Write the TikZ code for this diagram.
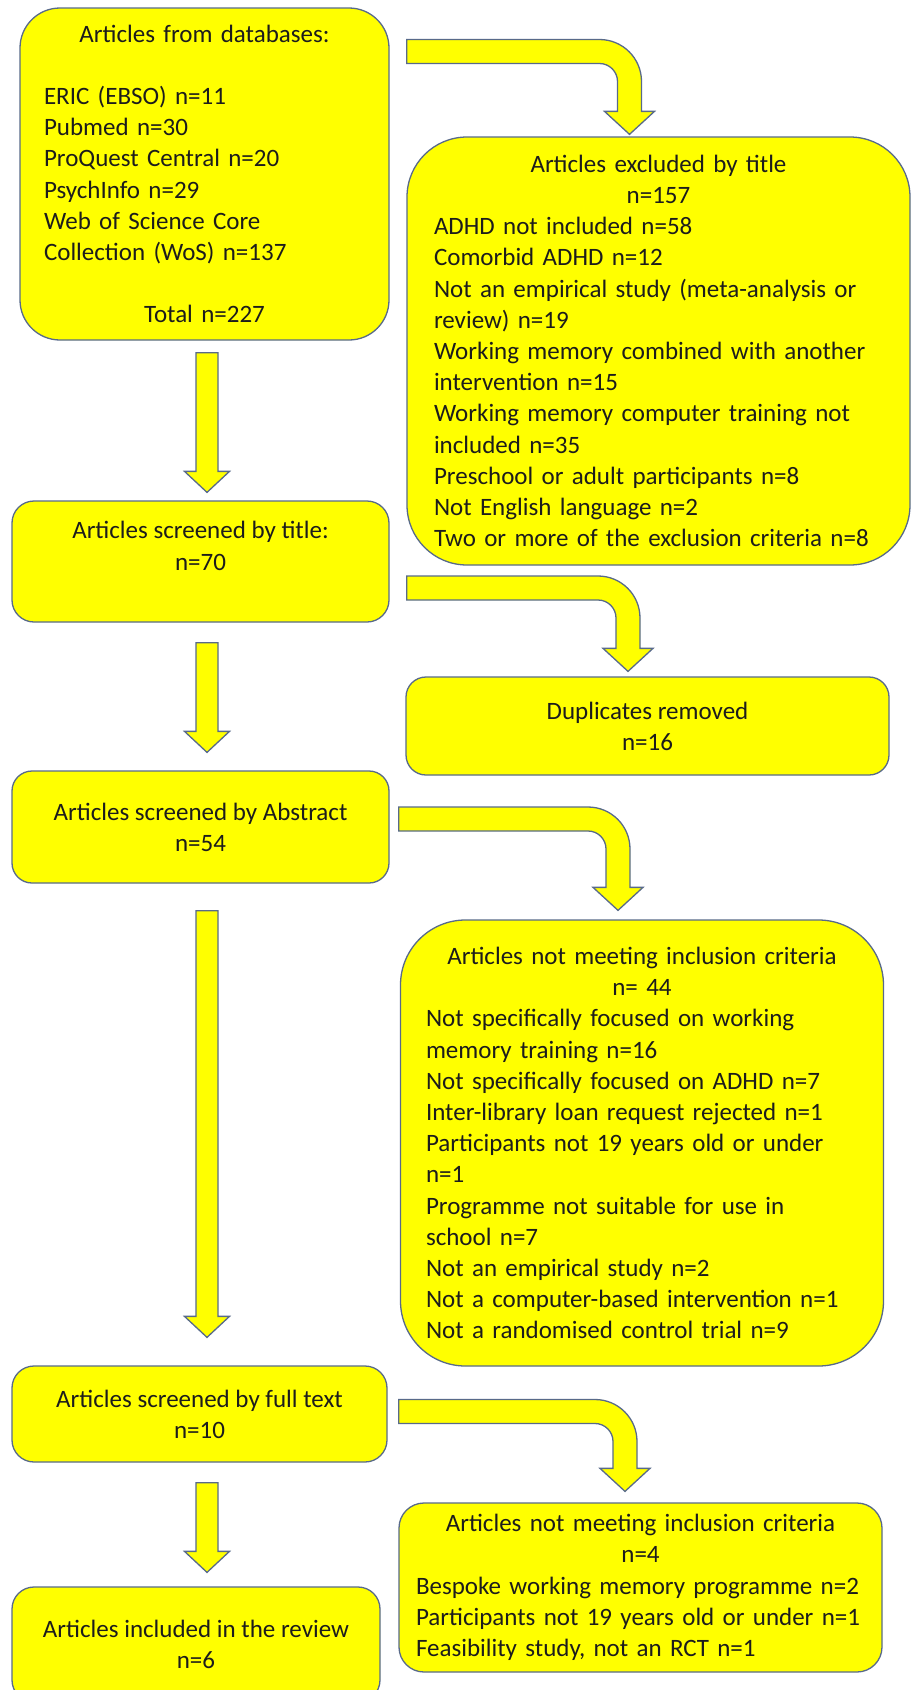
\documentclass[tikz,border=0pt]{standalone}
\usepackage{fontspec}
\setmainfont{Carlito}
\usetikzlibrary{calc}

\definecolor{boxyellow}{RGB}{255,255,0}
\definecolor{edgeblue}{RGB}{88,106,138}
\definecolor{inkgray}{RGB}{28,28,28}

\newcommand{\flowfont}{\fontsize{25}{31.2}\selectfont}
\newcommand{\lline}[1]{\makebox[\hsize][l]{#1}}

% straight block arrow: top of shaft, tip
\newcommand{\downblock}[2]{%
  \draw[blockarrow] let \p1=(#1), \p2=(#2) in
    (\x1-11pt,\y1) -- (\x1+11pt,\y1) -- (\x1+11pt,\y2+21pt) -- (\x1+22.5pt,\y2+21pt)
    -- (\x1,\y2) -- (\x1-22.5pt,\y2+21pt) -- (\x1-11pt,\y2+21pt) -- cycle;}

% bent block arrow: left end of shaft, tip
\newcommand{\bendblock}[2]{%
  \draw[blockarrow] let \p1=(#1), \p2=(#2) in
    (\x1,\y1+12pt) -- (\x2-30pt,\y1+12pt) arc[start angle=90,end angle=0,radius=42pt]
    -- (\x2+12pt,\y2+23pt) -- (\x2+25pt,\y2+23pt) -- (\x2,\y2) -- (\x2-25pt,\y2+23pt)
    -- (\x2-12pt,\y2+23pt) -- (\x2-12pt,\y1-30pt) arc[start angle=0,end angle=90,radius=18pt]
    -- (\x1,\y1-12pt) -- cycle;}

\begin{document}
\begin{tikzpicture}[
    x=1pt,
    y=-1pt,
    box/.style={draw=edgeblue, fill=boxyellow, line width=1.3pt, inner sep=0pt,
      align=center, font=\flowfont, text=inkgray},
    blockarrow/.style={draw=edgeblue, fill=boxyellow, line width=1.3pt, line join=miter},
  ]
  \useasboundingbox (0,0) rectangle (913,1690);
  \clip (0,0) rectangle (913,1690);
  \fill[white] (0,0) rectangle (913,1690);

  \node[box, rounded corners=40pt, minimum width=369pt, minimum height=332pt, text width=321pt]
    (dbs) at (204.5,174) {Articles from databases:\\ \mbox{}\\
      \lline{ERIC (EBSO) n=11}\\ \lline{Pubmed n=30}\\ \lline{ProQuest Central n=20}\\
      \lline{PsychInfo n=29}\\ \lline{Web of Science Core}\\ \lline{Collection (WoS) n=137}\\
      \mbox{}\\ Total n=227};
  \node[box, rounded corners=60pt, minimum width=503pt, minimum height=428pt, text width=449pt]
    (extitle) at (658.5,351) {Articles excluded by title\\ n=157\\
      \lline{ADHD not included n=58}\\ \lline{Comorbid ADHD n=12}\\
      \lline{Not an empirical study (meta-analysis or}\\ \lline{review) n=19}\\
      \lline{Working memory combined with another}\\ \lline{intervention n=15}\\
      \lline{Working memory computer training not}\\ \lline{included n=35}\\
      \lline{Preschool or adult participants n=8}\\ \lline{Not English language n=2}\\
      \lline{Two or more of the exclusion criteria n=8}};
  \node[box, rounded corners=22pt, minimum width=377pt, minimum height=121pt]
    (bytitle) at (200.5,561.5) {Articles screened by title:\\ n=70\\ \mbox{}};
  \node[box, rounded corners=20pt, minimum width=483pt, minimum height=98pt]
    (dupes) at (647.5,726) {Duplicates removed\\ n=16};
  \node[box, rounded corners=20pt, minimum width=377pt, minimum height=112pt]
    (byabs) at (200.5,827) {Articles screened by Abstract\\ n=54};
  \node[box, rounded corners=65pt, minimum width=483pt, minimum height=446pt, text width=432pt]
    (exabs) at (642,1143) {Articles not meeting inclusion criteria\\ n= 44\\
      \lline{Not specifically focused on working}\\ \lline{memory training n=16}\\
      \lline{Not specifically focused on ADHD n=7}\\ \lline{Inter-library loan request rejected n=1}\\
      \lline{Participants not 19 years old or under}\\ \lline{n=1}\\
      \lline{Programme not suitable for use in}\\ \lline{school n=7}\\
      \lline{Not an empirical study n=2}\\ \lline{Not a computer-based intervention n=1}\\
      \lline{Not a randomised control trial n=9}};
  \node[box, rounded corners=22pt, minimum width=375pt, minimum height=96pt]
    (byfull) at (199.5,1414) {Articles screened by full text\\ n=10};
  \node[box, rounded corners=25pt, minimum width=483pt, minimum height=169pt, text width=449pt]
    (exfull) at (640.5,1587.5) {Articles not meeting inclusion criteria\\ n=4\\
      \lline{Bespoke working memory programme n=2}\\
      \lline{Participants not 19 years old or under n=1}\\
      \lline{Feasibility study, not an RCT n=1}};
  \node[box, rounded corners=22pt, minimum width=368pt, minimum height=115pt]
    (incl) at (196,1644.5) {Articles included in the review\\ n=6};

  \coordinate (d1s) at ($(dbs.south -| 207,0)+(0,12)$);
  \coordinate (d1t) at ($(bytitle.north -| 207,0)+(0,-8)$);
  \coordinate (d2s) at ($(bytitle.south -| 207,0)+(0,20)$);
  \coordinate (d2t) at ($(byabs.north -| 207,0)+(0,-18)$);
  \coordinate (d3s) at ($(byabs.south -| 207,0)+(0,27)$);
  \coordinate (d3t) at ($(byfull.north -| 207,0)+(0,-28)$);
  \coordinate (d4s) at ($(byfull.south -| 207,0)+(0,20)$);
  \coordinate (d4t) at ($(incl.north -| 207,0)+(0,-14)$);
  \foreach \i in {1,...,4} {
    \downblock{d\i s}{d\i t}
  }

  \coordinate (b1s) at ($(dbs.east |- 0,51.5)+(17,0)$);
  \coordinate (b1t) at ($(extitle.north -| 629.5,0)+(0,-2)$);
  \coordinate (b2s) at ($(bytitle.east |- 0,588)+(17,0)$);
  \coordinate (b2t) at ($(dupes.north -| 628,0)+(0,-5)$);
  \coordinate (b3s) at ($(byabs.east |- 0,819)+(9,0)$);
  \coordinate (b3t) at ($(exabs.north -| 618,0)+(0,-9)$);
  \coordinate (b4s) at ($(byfull.east |- 0,1411.5)+(11,0)$);
  \coordinate (b4t) at ($(exfull.north -| 625,0)+(0,-11)$);
  \foreach \i in {1,...,4} {
    \bendblock{b\i s}{b\i t}
  }
\end{tikzpicture}
\end{document}
